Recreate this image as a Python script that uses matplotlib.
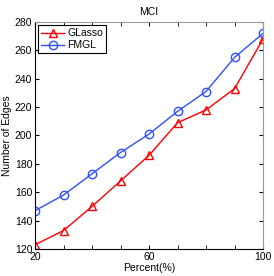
import numpy as np
import matplotlib
matplotlib.use("Agg")
import matplotlib.pyplot as plt
from matplotlib.ticker import MultipleLocator

percent = [20, 30, 40, 50, 60, 70, 80, 90, 100]
glasso = [123, 133, 150, 168, 186, 209, 218, 233, 268]
fmgl = [147, 158, 173, 188, 201, 217, 231, 255, 272]

plt.rcParams['font.family'] = ['Liberation Sans', 'DejaVu Sans']
plt.rcParams['font.size'] = 7.5

fig = plt.figure(figsize=(2.74, 2.76), dpi=100)
ax = fig.add_axes([35/274, 1-249/276, 228/274, 227/276])

ax.plot(percent, glasso, '-^', color='#ff0000', lw=1, ms=6, mfc='none', mew=1, label='GLasso')
ax.plot(percent, fmgl, '-o', color='#3050ff', lw=1, ms=6, mfc='none', mew=1, label='FMGL')

ax.set_xlim(20, 100)
ax.set_ylim(120, 280)
ax.set_xticks([20, 60, 100])
ax.xaxis.set_minor_locator(MultipleLocator(10))
ax.set_yticks(np.arange(120, 281, 20))
ax.tick_params(which='both', direction='in', top=True, right=True, length=3, pad=2)
ax.tick_params(which='minor', length=3)
for s in ['top', 'right']:
    ax.spines[s].set_color('#999999')
for s in ax.spines.values():
    s.set_linewidth(0.8)

ax.set_xlabel('Percent(%)', labelpad=1)
ax.set_ylabel('Number of Edges', labelpad=2)
ax.set_title('MCI', fontsize=7.5, pad=5)
leg = ax.legend(loc='upper left', fancybox=False, edgecolor='black', framealpha=1,
                handlelength=2.2, borderpad=0.3, labelspacing=0.2, handletextpad=0.3,
                borderaxespad=0.3)
leg.get_frame().set_linewidth(0.8)

fig.savefig('out.png', dpi=100)
